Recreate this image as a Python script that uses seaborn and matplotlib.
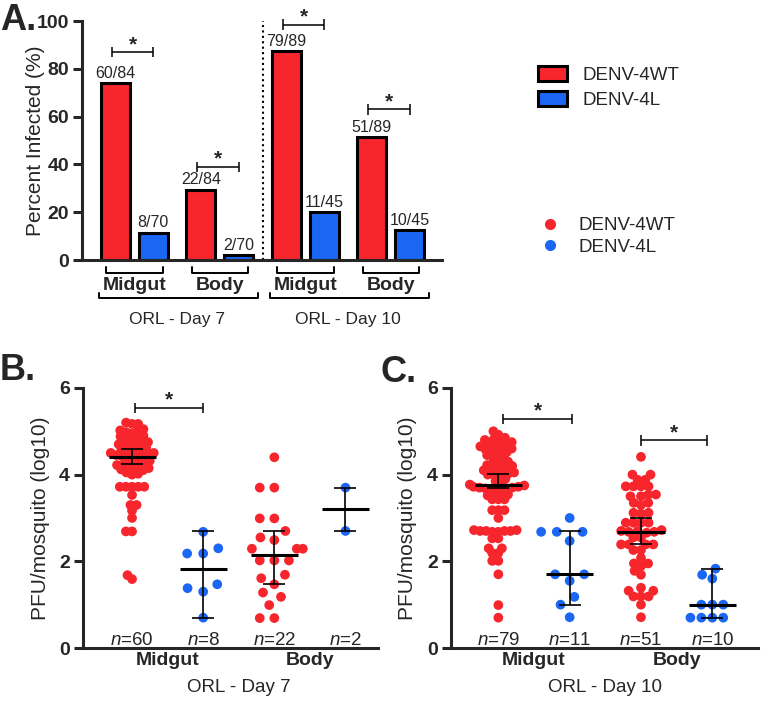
import matplotlib
matplotlib.use("Agg")
import matplotlib.pyplot as plt
import seaborn as sns
import pandas as pd
from matplotlib.patches import Patch
from matplotlib.lines import Line2D

RED = "#F7252C"
BLUE = "#1B66F2"

# ---- panel A: percent infected ----
groups_a = ["Midgut D7", "Body D7", "Midgut D10", "Body D10"]
wt_pct = [74, 29.5, 87.5, 51.5]
l_pct = [11.5, 2, 20, 12.5]
wt_frac = ["60/84", "22/84", "79/89", "51/89"]
l_frac = ["8/70", "2/70", "11/45", "10/45"]
sig_a_y = [87, 39, 98.5, 63]

# ---- panel B: ORL day 7 titers (log10 PFU) ----
b_wt_mid = [5.17, 5.2, 5.17, 5.05, 5.0, 4.98, 4.95, 5.02, 4.9, 4.88, 4.85, 4.82, 4.8,
            4.75, 4.72, 4.7, 4.68, 4.7, 4.62, 4.6, 4.58, 4.55, 4.52, 4.5, 4.48, 4.45,
            4.42, 4.41, 4.5, 4.46, 4.38, 4.35, 4.32, 4.3, 4.28, 4.25, 4.22, 4.2, 4.18,
            4.15, 4.12, 4.1, 4.05, 4.02, 4.0, 3.72, 3.72, 3.72, 3.72, 3.72, 3.53, 3.3,
            3.3, 3.17, 3.0, 2.69, 2.69, 1.68, 1.59, 4.13]
b_l_mid = [2.68, 2.3, 2.18, 2.18, 1.47, 1.38, 1.3, 0.7]
b_wt_body = [4.4, 3.7, 3.7, 2.99, 2.99, 2.7, 2.55, 2.49, 2.29, 2.29, 2.29, 2.02, 2.02,
             2.02, 1.69, 1.61, 1.47, 1.28, 1.18, 0.99, 0.69, 0.69]
b_l_body = [3.7, 2.7]
b_center = [4.4, 1.83, 2.15, 3.2]
b_low = [4.25, 0.7, 1.47, 2.7]
b_high = [4.6, 2.7, 2.7, 3.7]
b_n = ["60", "8", "22", "2"]

# ---- panel C: ORL day 10 titers (log10 PFU) ----
c_wt_mid = [5.0, 4.92, 4.85, 4.82, 4.8, 4.78, 4.75, 4.72, 4.7, 4.68, 4.65, 4.62, 4.6,
            4.58, 4.55, 4.52, 4.5, 4.45, 4.42, 4.4, 4.35, 4.3, 4.28, 4.25, 4.22, 4.2,
            4.18, 4.15, 4.12, 4.1, 4.08, 4.05, 4.02, 4.0, 4.0, 3.95, 3.9, 3.85, 3.8,
            3.77, 3.75, 3.72, 3.72, 3.7, 3.7, 3.7, 3.68, 3.68, 3.65, 3.6, 3.55, 3.54,
            3.52, 3.43, 3.43, 3.43, 3.18, 3.18, 3.18, 3.0, 2.72, 2.7, 2.7, 2.68, 2.7,
            2.72, 2.68, 2.7, 2.53, 2.53, 2.3, 2.3, 2.19, 2.19, 2.01, 2.01, 1.7, 0.99, 0.7]
c_l_mid = [3.0, 2.68, 2.68, 2.68, 2.47, 1.7, 1.7, 1.55, 1.18, 1.0, 0.71]
c_wt_body = [4.41, 4.0, 4.0, 3.88, 3.88, 3.73, 3.73, 3.73, 3.73, 3.54, 3.54, 3.5, 3.5,
             3.35, 3.35, 3.3, 3.12, 3.12, 3.1, 2.89, 2.89, 2.89, 2.89, 2.72, 2.7, 2.68,
             2.68, 2.7, 2.66, 2.55, 2.55, 2.39, 2.39, 2.39, 2.39, 2.26, 2.26, 2.08, 1.95,
             1.95, 1.89, 1.78, 1.69, 1.39, 1.32, 1.32, 1.19, 1.19, 1.19, 1.0, 0.71]
c_l_body = [1.83, 1.69, 1.6, 1.0, 1.0, 1.0, 0.7, 0.7, 0.7, 0.7]
c_center = [3.77, 1.7, 2.68, 1.0]
c_low = [3.69, 1.0, 2.39, 0.7]
c_high = [4.02, 2.7, 2.99, 1.83]
c_n = ["79", "11", "51", "10"]

viruses = ["DENV-4WT", "DENV-4L"]
scatter_groups = ["WT Midgut", "L Midgut", "WT Body", "L Body"]

sns.set_style("ticks")
plt.rcParams["font.family"] = ["Liberation Sans", "DejaVu Sans"]
plt.rcParams["mathtext.fontset"] = "custom"
plt.rcParams["mathtext.it"] = "Liberation Sans:italic"
plt.rcParams["mathtext.rm"] = "Liberation Sans"

LW = 2.2
DOT = 7.0                      # drawn marker size (pt)
# marker size used only for the swarm layout of each group: small for the dense
# groups so dots overlap (prism style), larger for sparse groups so they spread out
pack_b = [4.2, 11, 10, 7]
pack_c = [4.2, 11, 5.2, 7.5]

fig = plt.figure(figsize=(7.61, 7.01), dpi=100)
ax_a = fig.add_axes([0.108, 0.629, 0.473, 0.341])
ax_b = fig.add_axes([0.109, 0.0756, 0.388, 0.371])
ax_c = fig.add_axes([0.593, 0.0756, 0.403, 0.371])


def style_axis(ax):
    sns.despine(ax=ax)
    for s in ["left", "bottom"]:
        ax.spines[s].set_linewidth(LW)
    ax.tick_params(axis="y", width=LW, length=6.5, labelsize=14, pad=3)
    for lab in ax.get_yticklabels():
        lab.set_fontweight("bold")


def sig(ax, x1, x2, y, dy):
    kw = dict(color="black", lw=1.1, clip_on=False, solid_capstyle="butt")
    ax.plot([x1, x2], [y, y], **kw)
    ax.plot([x1, x1], [y - dy, y + dy], **kw)
    ax.plot([x2, x2], [y - dy, y + dy], **kw)
    ax.annotate("*", xy=((x1 + x2) / 2, y), xytext=(0, 1.5), textcoords="offset points",
                ha="center", va="baseline", fontsize=15, fontweight="bold")


# ---------------- panel A ----------------
df_a = pd.DataFrame({
    "group": groups_a * 2,
    "virus": [viruses[0]] * 4 + [viruses[1]] * 4,
    "pct": wt_pct + l_pct,
})
sns.barplot(data=df_a, x="group", y="pct", hue="virus", order=groups_a, hue_order=viruses,
            palette=[RED, BLUE], saturation=1, width=0.888, gap=0.23, edgecolor="black",
            linewidth=LW, errorbar=None, legend=False, ax=ax_a)
ax_a.set_xlim(-0.61, 3.6)
ax_a.set_ylim(0, 100)
ax_a.set_yticks([0, 20, 40, 60, 80, 100])
ax_a.set_xticks([])
ax_a.set_xlabel("")
ax_a.set_ylabel("Percent Infected (%)", fontsize=15)
ax_a.yaxis.set_label_coords(-0.103, 0.5)
style_axis(ax_a)

wt_bars, l_bars = ax_a.containers[0], ax_a.containers[1]
ax_a.bar_label(wt_bars, labels=wt_frac, padding=1.5, fontsize=11.5)
ax_a.bar_label(l_bars, labels=l_frac, padding=1.5, fontsize=11.5)
for i in range(4):
    xw = wt_bars[i].get_x() + wt_bars[i].get_width() / 2
    xl = l_bars[i].get_x() + l_bars[i].get_width() / 2
    sig(ax_a, xw - 0.04, xl, sig_a_y[i], 2.2)

ax_a.axvline(1.5, ymin=0, ymax=1, color="black", ls=(0, (1, 1.6)), lw=1.5)

# tissue brackets and day labels under the x axis
bk = dict(color="black", lw=1.4, clip_on=False)
tissue_names = ["Midgut", "Body", "Midgut", "Body"]
for i in range(4):
    ax_a.plot([i - 0.33, i - 0.33, i + 0.33, i + 0.33], [-2.8, -5.4, -5.4, -2.8], **bk)
    ax_a.text(i, -10.6, tissue_names[i], ha="center", va="center", fontsize=14,
              fontweight="bold", clip_on=False)
for d, label in enumerate(["ORL - Day 7", "ORL - Day 10"]):
    x0, x1 = 2 * d - 0.41, 2 * d + 1.45
    ax_a.plot([x0, x0, x1, x1], [-13.6, -15.9, -15.9, -13.6], **bk)
    ax_a.text(2 * d + 0.5, -25, label, ha="center", va="center", fontsize=12.5, clip_on=False)

fig.legend(handles=[Patch(facecolor=RED, edgecolor="black", linewidth=LW, label=viruses[0]),
                    Patch(facecolor=BLUE, edgecolor="black", linewidth=LW, label=viruses[1])],
           loc="upper left", bbox_to_anchor=(538 / 761, 1 - 66 / 701), frameon=False,
           fontsize=13.5, handlelength=1.55, handleheight=0.85, handletextpad=0.85,
           labelspacing=0.4, borderpad=0, borderaxespad=0)
fig.legend(handles=[Line2D([], [], ls="", marker="o", markersize=DOT, color=RED, label=viruses[0]),
                    Line2D([], [], ls="", marker="o", markersize=DOT, color=BLUE, label=viruses[1])],
           loc="upper left", bbox_to_anchor=(537 / 761, 1 - 217 / 701), frameon=False,
           fontsize=13.5, handlelength=1.4, handletextpad=0.8, labelspacing=0.25,
           borderpad=0, borderaxespad=0)


# ---------------- panels B and C ----------------
def titer_panel(ax, values, center, low, high, n_labels, xlim, day_label, sig_pairs, pack):
    rows = []
    for g, vals in zip(scatter_groups, values):
        v = viruses[0] if g.startswith("WT") else viruses[1]
        rows += [(g, v, x) for x in vals]
    df = pd.DataFrame(rows, columns=["group", "virus", "titer"])
    sns.swarmplot(data=df, x="group", y="titer", hue="virus", order=scatter_groups,
                  hue_order=viruses, palette=[RED, BLUE], size=DOT, linewidth=0,
                  legend=False, warn_thresh=1, ax=ax)
    swarms = [c for c in ax.collections if len(c.get_offsets())]
    for coll in swarms:
        gi = int(round(coll.get_offsets()[0][0]))
        coll.set_sizes([pack[gi] ** 2])
    for i in range(4):
        ax.hlines(center[i], i - 0.33, i + 0.33, color="black", lw=LW, zorder=6)
        ax.errorbar(i, center[i], yerr=[[center[i] - low[i]], [high[i] - center[i]]],
                    fmt="none", ecolor="black", elinewidth=1.2, capsize=8, capthick=1.2,
                    zorder=6)
        ax.text(i, 0.07, r"$\mathit{n}$=" + n_labels[i], ha="center", va="baseline",
                fontsize=13.5)
    for (x1, x2, y) in sig_pairs:
        sig(ax, x1, x2, y, 0.12)
    ax.set_xlim(*xlim)
    ax.set_ylim(0, 6)
    ax.set_yticks([0, 2, 4, 6])
    ax.set_xticks([0.5, 2.5])
    ax.set_xticklabels(["Midgut", "Body"], fontsize=14, fontweight="bold")
    ax.tick_params(axis="x", length=0, pad=3)
    ax.set_xlabel("")
    ax.text(1.5, -0.9, day_label, ha="center", va="center", fontsize=13.5, clip_on=False)
    ax.set_ylabel("PFU/mosquito (log10)", fontsize=15)
    style_axis(ax)
    return swarms


swarms_b = titer_panel(ax_b, [b_wt_mid, b_l_mid, b_wt_body, b_l_body], b_center, b_low,
                       b_high, b_n, (-0.69, 3.46), "ORL - Day 7", [(0.04, 1, 5.54)], pack_b)
ax_b.yaxis.set_label_coords(-0.112, 0.5)
swarms_c = titer_panel(ax_c, [c_wt_mid, c_l_mid, c_wt_body, c_l_body], c_center, c_low,
                       c_high, c_n, (-0.66, 3.64), "ORL - Day 10",
                       [(0.07, 1.03, 5.29), (2.0, 2.93, 4.79)], pack_c)
ax_c.yaxis.set_label_coords(-0.111, 0.5)

fig.text(0.0, 1 - 30 / 701, "A.", fontsize=26, fontweight="bold", ha="left", va="baseline")
fig.text(0.0, 1 - 380 / 701, "B.", fontsize=26, fontweight="bold", ha="left", va="baseline")
fig.text(380 / 761, 1 - 382 / 701, "C.", fontsize=26, fontweight="bold", ha="left", va="baseline")

# run the swarm layout once with the packing sizes, then freeze it and
# draw every dot at the same full size
fig.canvas.draw()
for coll in swarms_b + swarms_c:
    if "draw" in coll.__dict__:
        del coll.draw
    coll.set_sizes([DOT ** 2])

fig.savefig("out.png", dpi=100)
